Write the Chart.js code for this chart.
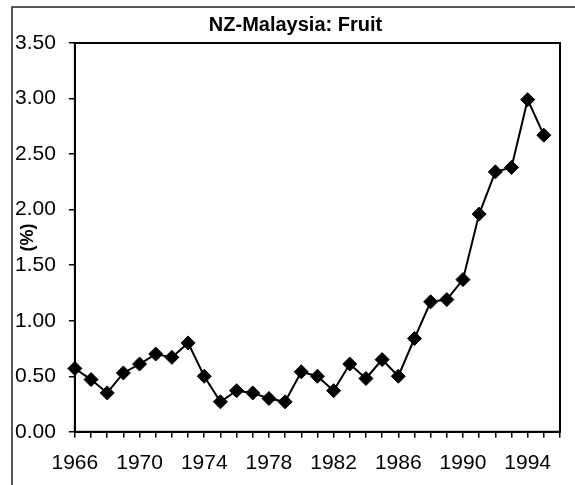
<!DOCTYPE html>
<html>
<head>
<meta charset="utf-8">
<title>NZ-Malaysia: Fruit</title>
<script src="https://cdn.jsdelivr.net/npm/chart.js@4.4.1/dist/chart.umd.min.js"></script>
<style>
	html, body { margin: 0; padding: 0; background: #fff; }
</style>
</head>
<body>
<canvas id="fruitChart" width="575" height="485"></canvas>
<script>
// years on the category axis (1996 is an empty slot at the right edge)
var years = ['1966','1967','1968','1969','1970','1971','1972','1973','1974','1975',
	'1976','1977','1978','1979','1980','1981','1982','1983','1984','1985',
	'1986','1987','1988','1989','1990','1991','1992','1993','1994','1995','1996'];

// fruit share, %
var fruitShare = [0.57,0.47,0.35,0.53,0.61,0.70,0.67,0.80,0.50,0.27,
	0.37,0.35,0.30,0.27,0.54,0.50,0.37,0.61,0.48,0.65,
	0.50,0.84,1.17,1.19,1.37,1.96,2.34,2.38,2.99,2.67,null];

var xTickLabels = ['1966','1970','1974','1978','1982','1986','1990','1994'];
var yTickValues = [0,0.5,1,1.5,2,2.5,3,3.5];

var fontFamily = '"Liberation Sans", Arial, sans-serif';

var framePlugin = {
	id: 'frame',
	beforeDraw: function(chart) {
		var ctx = chart.ctx;
		ctx.save();
		ctx.fillStyle = '#fff';
		ctx.fillRect(0, 0, chart.width, chart.height);
		// outer frame, only top and left show in the scan
		ctx.strokeStyle = '#222';
		ctx.lineWidth = 1.5;
		ctx.beginPath();
		ctx.moveTo(12, chart.height);
		ctx.lineTo(12, 7);
		ctx.lineTo(chart.width, 7);
		ctx.stroke();
		ctx.restore();
	},
	beforeDatasetsDraw: function(chart) {
		var a = chart.chartArea;
		var ctx = chart.ctx;
		ctx.save();
		ctx.strokeStyle = '#000';
		ctx.lineWidth = 2;
		ctx.strokeRect(a.left, a.top, a.right - a.left, a.bottom - a.top);
		ctx.restore();
	},
	afterDraw: function(chart) {
		// "(%)" sits over the tick label column, so draw it by hand
		var y = chart.scales.y;
		var ctx = chart.ctx;
		ctx.save();
		ctx.translate(28, y.getPixelForValue(1.75));
		ctx.rotate(-Math.PI / 2);
		ctx.font = 'bold 18px ' + fontFamily;
		ctx.fillStyle = '#000';
		ctx.textAlign = 'center';
		ctx.textBaseline = 'middle';
		ctx.fillText('(%)', 0, 0);
		ctx.restore();
	}
};

var ctx = document.getElementById('fruitChart');

var fruitChart = new Chart(ctx, {
	type: 'line',
	data: {
		labels: years,
		datasets: [{
			label: 'NZ-Malaysia: Fruit',
			data: fruitShare,
			borderColor: '#000',
			borderWidth: 2,
			backgroundColor: '#000',
			pointStyle: 'rectRot',
			pointRadius: 7,
			pointBackgroundColor: '#000',
			pointBorderColor: '#000',
			pointBorderWidth: 1,
			lineTension: 0,
			fill: false
		}]
	},
	options: {
		responsive: false,
		animation: false,
		layout: {
			// right side goes negative so the title centres a bit right of the canvas middle
			padding: { left: 2, right: -14, top: 0, bottom: -4 }
		},
		plugins: {
			legend: { display: false },
			tooltip: { enabled: false },
			title: {
				display: true,
				text: 'NZ-Malaysia: Fruit',
				color: '#000',
				font: { family: fontFamily, size: 20, weight: 'bold' },
				padding: { top: 13, bottom: 6 }
			}
		},
		scales: {
			x: {
				offset: false,
				afterFit: function(scale) { scale.paddingRight = 15; },
				grid: {
					drawOnChartArea: false,
					color: '#000',
					lineWidth: 1.5,
					tickLength: 6
				},
				border: { color: '#000', width: 2 },
				ticks: {
					autoSkip: false,
					maxRotation: 0,
					padding: 13,
					color: '#000',
					font: { family: fontFamily, size: 21 },
					callback: function(val, idx) {
						var lab = this.getLabelForValue(val);
						return xTickLabels.indexOf(lab) >= 0 ? lab : '';
					}
				}
			},
			y: {
				min: 0,
				max: 3.5,
				afterBuildTicks: function(scale) {
					scale.ticks = yTickValues.map(function(v) { return { value: v }; });
				},
				grid: {
					drawOnChartArea: false,
					color: '#000',
					lineWidth: 1.5,
					tickLength: 6
				},
				border: { color: '#000', width: 2 },
				ticks: {
					padding: 13,
					color: '#000',
					font: { family: fontFamily, size: 21 },
					callback: function(val) { return Number(val).toFixed(2); }
				}
			}
		}
	},
	plugins: [framePlugin]
});
</script>
</body>
</html>
